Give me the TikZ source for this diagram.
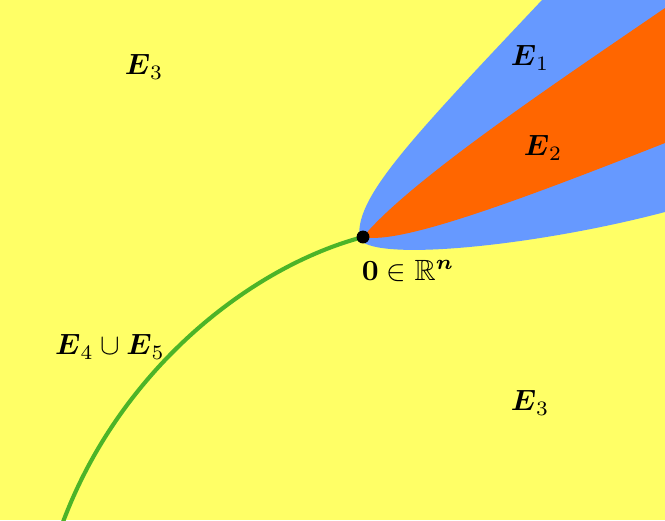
\documentclass[tikz,border=0pt]{standalone}
\usepackage{amsmath}
\usepackage{amssymb}
\usepackage{xcolor}
\usepackage{tikz}
\definecolor{setyellow}{RGB}{255,255,102}
\definecolor{setblue}{RGB}{102,153,255}
\definecolor{setorange}{RGB}{255,102,0}
\definecolor{setgreen}{RGB}{76,180,40}

\begin{document}
\begin{tikzpicture}[x=0.012cm,y=-0.012cm]
  \useasboundingbox (0,0) rectangle (665,520);
  \clip (0,0) rectangle (665,520);
  \fill[setyellow] (0,0) rectangle (665,520);
  \coordinate (O) at (363,237);
  \coordinate (tip) at (360,240);
  \coordinate (foot) at (63,522);
  \fill[setblue] (tip) .. controls (352,200) and (410,140) .. (542,0) -- (665,0) -- (665,212)
    .. controls (540,245) and (380,262) .. (tip);
  \fill[setorange] (O) .. controls (410,180) and (560,80) .. (665,8) -- (665,143)
    .. controls (520,200) and (400,245) .. (O);
  \draw[setgreen,line width=1.4pt] (O) .. controls (250,267) and (120,370) .. (foot);
  \fill[black] (O) circle[radius=2.2pt];
  \node (e3top) at (144,67) {$\boldsymbol{E}_3$};
  \node (e1) at (530,58) {$\boldsymbol{E}_1$};
  \node (e2) at (543,148) {$\boldsymbol{E}_2$};
  \node (zero) at (408,271) {$\mathbf{0}\in\mathbb{R}^{\boldsymbol{n}}$};
  \node (e45) at (110,347) {$\boldsymbol{E}_4\cup\boldsymbol{E}_5$};
  \node (e3bot) at (530,403) {$\boldsymbol{E}_3$};
\end{tikzpicture}
\end{document}
